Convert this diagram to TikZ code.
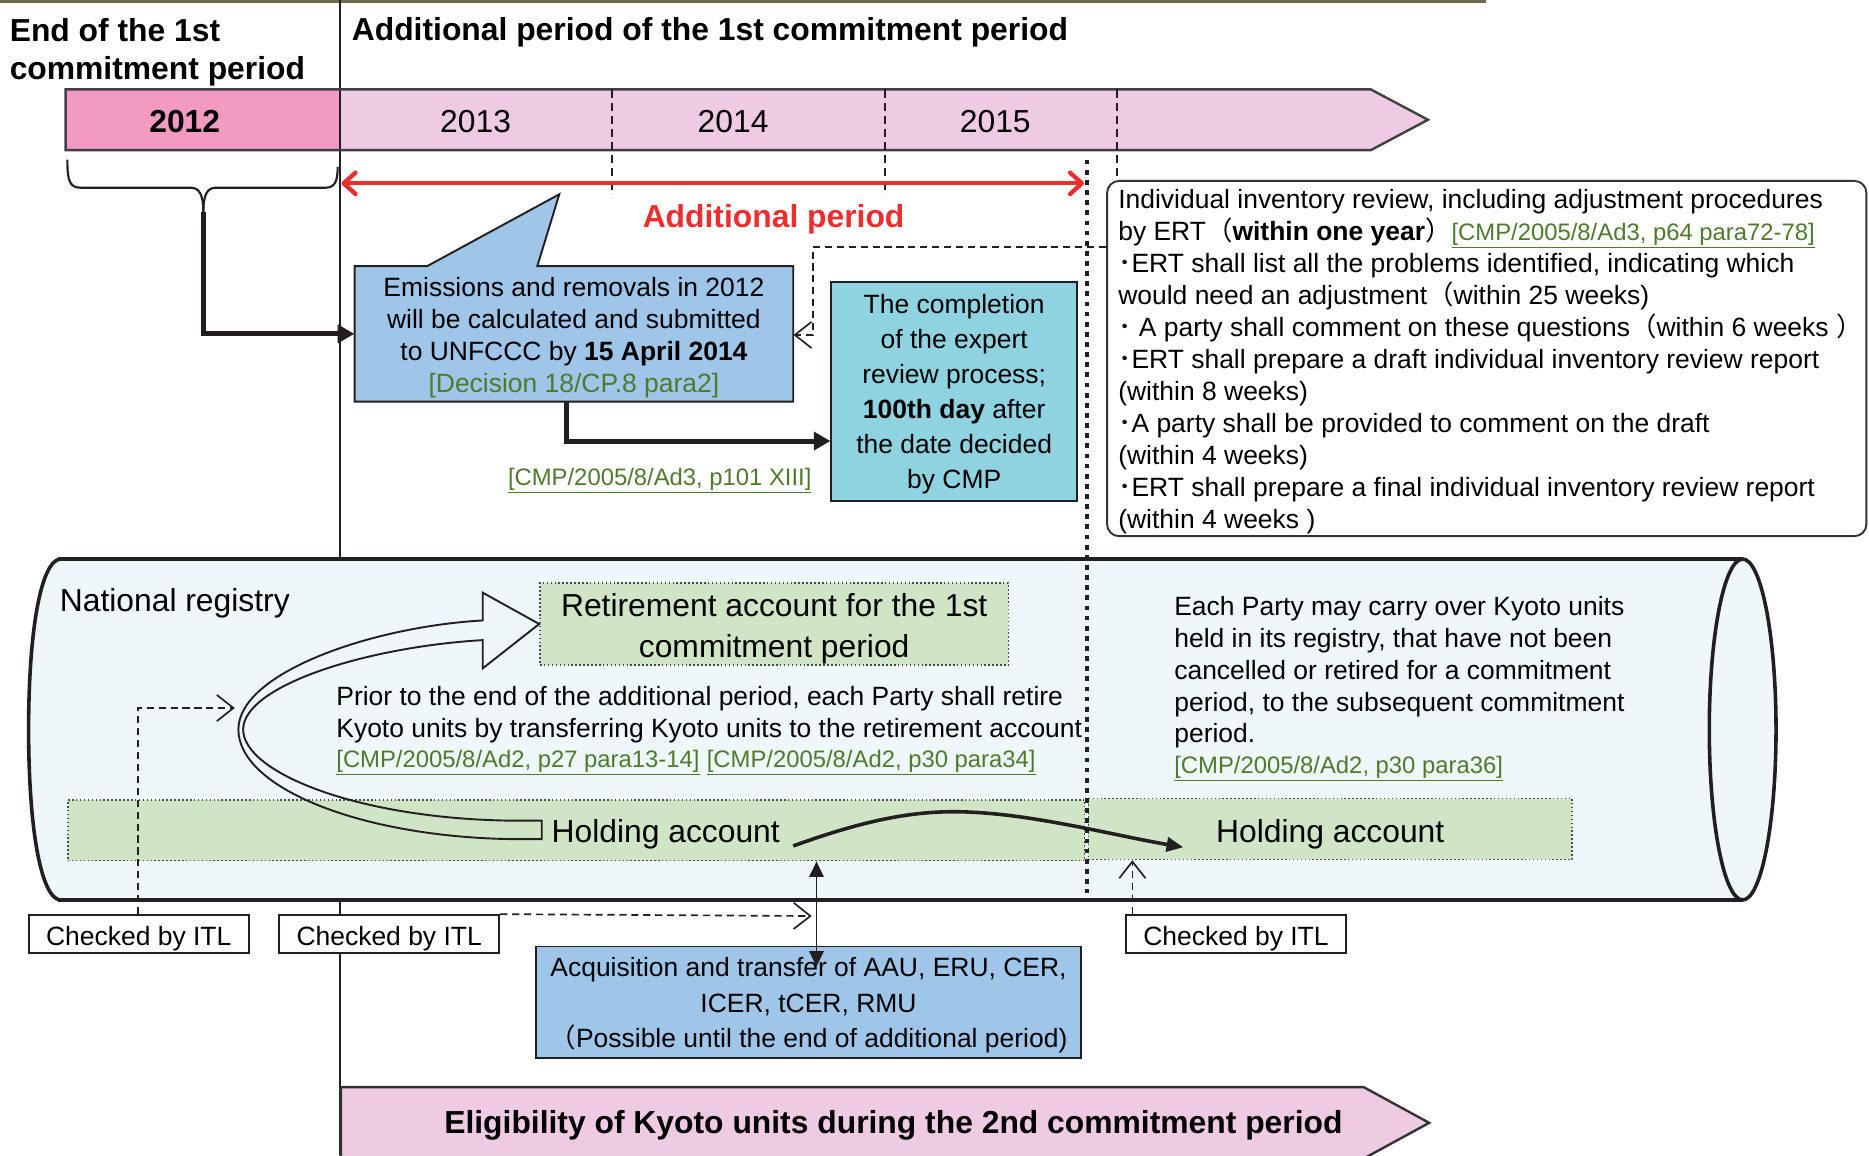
\documentclass[tikz,border=0pt]{standalone}
\usepackage{fontspec}
\setmainfont{Liberation Sans}
\newfontfamily\cjk{Noto Sans CJK JP}
\usetikzlibrary{arrows.meta}
\definecolor{pinkD}{HTML}{F39AC2}
\definecolor{pinkL}{HTML}{EECBE3}
\definecolor{blueB}{HTML}{9FC5E8}
\definecolor{tealB}{HTML}{8ED3DF}
\definecolor{greenB}{HTML}{D0E5C6}
\definecolor{cylC}{HTML}{EEF7FA}
\definecolor{refG}{HTML}{4F7A2E}
\definecolor{redC}{HTML}{EE2E2E}
\definecolor{lineC}{HTML}{231F20}
\definecolor{topC}{HTML}{6B6A4A}
\newcommand\txtsmall{\fontsize{22.2}{26.8}\selectfont}
\newcommand\txtbig{\fontsize{26.7}{32}\selectfont}
\newcommand\refl[1]{{\fontsize{20}{26.8}\selectfont\textcolor{refG}{\underline{#1}}}}
\begin{document}
\begin{tikzpicture}[x=1pt,y=-1pt,
  lbl/.style={inner sep=0pt,font=\txtsmall},
  lblbig/.style={inner sep=0pt,font=\txtbig},
  lblbold/.style={inner sep=0pt,font=\txtbig\bfseries},
  boxed/.style={draw=lineC,line width=1.6pt,inner sep=0pt},
  greenbox/.style={draw=black!70,fill=greenB,dotted,line width=1.3pt,inner sep=0pt},
  itlbox/.style={boxed,fill=white,minimum width=184.7pt,minimum height=32pt,font=\txtsmall,text height=23.3pt,text depth=4.7pt},
  thickarr/.style={draw=lineC,line width=4.2pt,-{Triangle[length=14pt,width=15pt]}},
  dconn/.style={draw=lineC,line width=1.4pt,dash pattern=on 6pt off 4pt,-{Straight Barb[length=14pt,width=22pt]}},
  ysep/.style={draw=lineC,line width=1.3pt,dash pattern=on 7pt off 4pt},
  redarr/.style={draw=redC,line width=3.6pt,{Straight Barb[round,length=10pt,width=18pt]}-{Straight Barb[round,length=10pt,width=18pt]}},
  dotline/.style={draw=lineC,line width=3.8pt,dash pattern=on 4pt off 4.5pt},
  cyledge/.style={draw=lineC,line width=3.6pt},
  cylside/.style={draw=lineC,line width=3pt},
  barline/.style={draw=black!75,line width=2pt,line join=miter}]
\useasboundingbox (0,0) rectangle (1568,969);

% top rule
\fill[topC] (0,0) rectangle (1247,2.6);

% year bar
\fill[pinkL] (285,75) -- (1150,75) -- (1198,100.5) -- (1150,126) -- (285,126) -- cycle;
\fill[pinkD] (55,75) rectangle (285,126);

% divider
\draw[draw=lineC,line width=1.7pt] (285,0) -- (285,969);

\draw[barline] (55,75) -- (1150,75) -- (1198,100.5) -- (1150,126) -- (55,126) -- cycle;
\node[lblbold] (y12) at (155,102) {2012};
\node[lblbig] (y13) at (399,102) {2013};
\node[lblbig] (y14) at (615,102) {2014};
\node[lblbig] (y15) at (835,102) {2015};
\draw[ysep] (513.6,75) -- (513.6,163);
\draw[ysep] (742.4,75) -- (742.4,163);
\draw[ysep] (937.3,75) -- (937.3,151);

% headings
\node[lblbold,anchor=north west,align=left] (endlbl) at (8,15) {End of the 1st\\commitment period};
\node[lblbold,anchor=west] (addlbl) at (295,27) {Additional period of the 1st commitment period};

% brace
\coordinate (bracetip) at (170.6,178);
\draw[draw=lineC,line width=1.8pt] (56.5,134) .. controls (56.5,152) and (58.5,157.5) .. (68,157.5) -- (160,157.5) .. controls (167,157.5) and (170.6,163) .. (bracetip);
\draw[draw=lineC,line width=1.8pt] (bracetip) .. controls (170.6,163) and (174,157.5) .. (181,157.5) -- (273,157.5) .. controls (281,157.5) and (283.3,152) .. (283.3,140);

% additional period arrow
\coordinate (addL) at (286.5,153.8);
\coordinate (addR) at (909.5,153.8);
\draw[redarr] (addL) -- (addR);
\node[lblbold,text=redC] (addp) at (649,184) {Additional period};

% emissions callout
\filldraw[fill=blueB,draw=lineC,line width=1.6pt,line join=miter] (297.5,223.2) -- (358.5,223.2) -- (469.2,163) -- (450.8,223.2) -- (665.5,223.2) -- (665.5,337) -- (297.5,337) -- cycle;
\node[lbl,minimum width=368pt,minimum height=113.8pt,align=center] (emis) at (481.5,280.1)
 {\rule{0pt}{22.2pt}Emissions and removals in 2012\\will be calculated and submitted\\to UNFCCC by \textbf{15 April 2014}\\\textcolor{refG}{[Decision 18/CP.8 para2]}};

% completion box
\node[boxed,fill=tealB,minimum width=206pt,minimum height=184pt,align=center,font=\fontsize{22.2}{29.4}\selectfont] (comp) at (800.5,328.5)
 {\rule{0pt}{20.5pt}The completion\\of the expert\\review process;\\\textbf{100th day} after\\the date decided\\by CMP};

\draw[thickarr] (bracetip) |- (emis.west);
\draw[thickarr] (emis.south -| 475,0) |- (comp.west |- 0,370);
\node[lbl,anchor=east] (ref1) at (681,403) {\refl{[CMP/2005/8/Ad3, p101 XIII]}};

% inventory review box
\node[draw=black!80,line width=1.6pt,fill=white,rounded corners=10pt,anchor=north west,minimum width=637pt,minimum height=298pt] (inv) at (928,151) {};
\node[lbl,anchor=north west,align=left] (invtxt) at (938,152.3)
 {\rule{0pt}{22.7pt}Individual inventory review, including adjustment procedures\\
 by ERT{\cjk （}\textbf{within one year}{\cjk ）}\refl{[CMP/2005/8/Ad3, p64 para72-78]}\\
 {\cjk ･}ERT shall list all the problems identified, indicating which\\
 would need an adjustment{\cjk （}within 25 weeks)\\
 {\cjk ･} A party shall comment on these questions{\cjk （}within 6 weeks {\cjk ）}\\
 {\cjk ･}ERT shall prepare a draft individual inventory review report\\
 (within 8 weeks)\\
 {\cjk ･}A party shall be provided to comment on the draft\\
 (within 4 weeks)\\
 {\cjk ･}ERT shall prepare a final individual inventory review report\\
 (within 4 weeks )};

\draw[dconn] (inv.west |- 0,207) -| (682,281) -- (emis.east |- 0,281);

% cylinder (national registry)
\path[fill=cylC] (50,469) -- (1462,469) -- (1462,755) -- (50,755) .. controls (34,752) and (24,694) .. (24,612) .. controls (24,530) and (34,472) .. (50,469) -- cycle;
\draw[cylside] (50,469) .. controls (34,472) and (24,530) .. (24,612) .. controls (24,694) and (34,752) .. (50,755);
\draw[cyledge] (49,469) -- (1462,469);
\draw[cyledge] (49,755) -- (1462,755);
\draw[cylside,fill=cylC] (1462,612) ellipse [x radius=28,y radius=143];
\node[lblbig,anchor=west] (natreg) at (50,506) {National registry};

% accounts
\node[greenbox,minimum width=393pt,minimum height=69pt,align=center,font=\fontsize{26.7}{34}\selectfont] (retire) at (649.5,523.5) {\rule{0pt}{27.5pt}Retirement account for the 1st\\commitment period};
\node[greenbox,minimum width=853pt,minimum height=51pt] (hold1) at (483.5,696.5) {};
\node[lblbig] (hold1lbl) at (558.5,700) {Holding account};
\node[greenbox,minimum width=406pt,minimum height=51pt,font=\txtbig,text height=27.8pt,text depth=5.6pt] (hold2) at (1116,695.5) {Holding account};

% texts in registry
\node[lbl,anchor=north west,align=left] (retiretxt) at (282,575.8)
 {Prior to the end of the additional period, each Party shall retire\\Kyoto units by transferring Kyoto units to the retirement account\\[-2pt]\refl{[CMP/2005/8/Ad2, p27 para13-14]} \refl{[CMP/2005/8/Ad2, p30 para34]}};
\node[lbl,anchor=north west,align=left] (carrytxt) at (985,499.8)
 {Each Party may carry over Kyoto units\\held in its registry, that have not been\\cancelled or retired for a commitment\\period, to the subsequent commitment\\period.\\[-1pt]\refl{[CMP/2005/8/Ad2, p30 para36]}};

% hollow curved arrow: holding -> retirement
\draw[draw=lineC,line width=1.6pt,line join=miter] (454.5,688.5) -- (430,688.5) .. controls (300,687) and (204,648) .. (204,612) .. controls (204,576) and (305,543) .. (405,537) -- (405,560.7) -- (retire.west) -- (405,497.2) -- (405,520.5) .. controls (310,526) and (200,565) .. (200,612) .. controls (200,660) and (300,702) .. (430,704) -- (454.5,704) -- cycle;

% carry-over arrow
\coordinate (holdA) at (665.5,709.7);
\coordinate (holdB) at (992.7,710.8);
\draw[draw=lineC,line width=3pt,-{Triangle[length=14pt,width=12pt]}] (holdA) .. controls (720,690) and (760,681) .. (800,681) .. controls (860,681) and (930,700) .. (holdB);

% end of additional period
\draw[dotline] (912,134) -- (912,749);

% checked by ITL
\node[itlbox] (chk1) at (116.4,783.7) {Checked by ITL};
\node[itlbox] (chk2) at (326.5,783.7) {Checked by ITL};
\node[itlbox] (chk3) at (1036.9,783.7) {Checked by ITL};
\coordinate (curvein) at (197,594);
\coordinate (vertin) at (681,768.5);
\draw[dconn] (chk1.north -| 116,0) |- (curvein);
\draw[dconn] (chk2.north east) -- (vertin);
\draw[dconn] (chk3.north -| 950,0) -- (hold2.south -| 950,0);

% acquisition box
\node[boxed,fill=blueB,minimum width=456.5pt,minimum height=93.5pt,align=center,font=\fontsize{22.2}{29.5}\selectfont] (acq) at (678.3,840.8)
 {\rule{0pt}{21.2pt}Acquisition and transfer of AAU, ERU, CER,\\ICER, tCER, RMU\\{\cjk （}Possible until the end of additional period)};
\coordinate (acqin) at (685,811);
\draw[draw=lineC,line width=1.6pt,{Triangle[length=13pt,width=12pt]}-{Triangle[length=13pt,width=12pt]}] (hold1.south -| 685,0) -- (acqin);

% eligibility arrow
\filldraw[fill=pinkL,draw=black!80,line width=2pt] (286,912) -- (1144,912) -- (1199,942) -- (1144,972) -- (286,972) -- cycle;
\node[lblbold] (elig) at (749.5,944) {Eligibility of Kyoto units during the 2nd commitment period};
\end{tikzpicture}
\end{document}
